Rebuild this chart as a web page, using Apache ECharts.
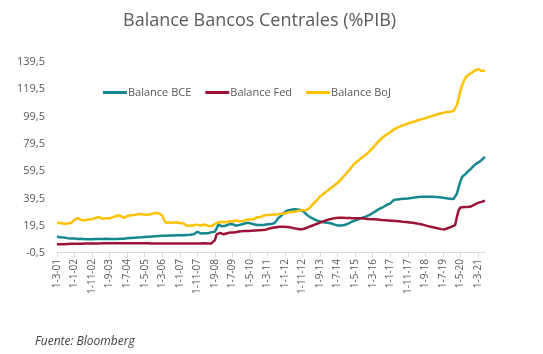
<!DOCTYPE html>
<html>
<head>
<meta charset="utf-8">
<script src="https://cdn.jsdelivr.net/npm/echarts@6/dist/echarts.min.js"></script>
<style>
  html, body { margin: 0; padding: 0; background: #fff; }
  #chart { width: 543px; height: 354px; }
</style>
</head>
<body>
<div id="chart"></div>
<script>
// meses desde 1-3-01 hasta 1-7-21
var categorias = [];
for (var y = 2001; y <= 2021; y++) {
  for (var m = 1; m <= 12; m++) {
    if (y === 2001 && m < 3) continue;
    if (y === 2021 && m > 7) continue;
    categorias.push('1-' + m + '-' + String(y).slice(2));
  }
}

var serieNombres = ['Balance BCE', 'Balance Fed', 'Balance BoJ'];

var bce = [
  11.4, 11.2, 11.0, 10.8, 10.9, 10.6, 10.4, 10.5, 10.2, 10.0,
  10.1, 9.9, 9.8, 9.7, 9.9, 9.6, 9.5, 9.7, 9.6, 9.5, 9.6, 9.8,
  9.7, 9.9, 9.8, 9.6, 9.7, 9.8, 9.9, 9.7, 9.8, 10.0, 9.8, 9.7,
  9.7, 9.9, 10.0, 10.1, 10.0, 10.2, 10.3, 10.4, 10.5, 10.6, 10.7, 10.8,
  10.9, 10.8, 11.0, 11.0, 11.2, 11.3, 11.4, 11.5, 11.6, 11.7, 11.8, 11.9,
  12.0, 12.0, 12.1, 12.1, 12.2, 12.2, 12.3, 12.3, 12.4, 12.4, 12.5, 12.5,
  12.5, 12.6, 12.6, 12.6, 12.7, 12.7, 12.8, 12.9, 13.2, 14.0, 15.1, 14.2,
  13.8, 14.2, 13.9, 14.3, 13.9, 14.4, 14.8, 15.0, 15.1, 17.5, 20.5, 19.8,
  19.0, 18.8, 19.5, 20.2, 20.5, 20.0, 20.6, 19.8, 19.5, 19.6, 20.1, 20.4,
  20.8, 21.2, 21.5, 21.7, 21.4, 21.0, 20.6, 20.3, 20.0, 20.2, 20.0, 20.2,
  20.0, 20.3, 20.5, 20.4, 20.7, 20.9, 21.5, 23.0, 25.0, 26.0, 27.0, 28.5,
  29.7, 30.5, 30.8, 31.0, 31.3, 31.5, 31.5, 31.4, 31.2, 31.0, 30.5, 29.5,
  28.0, 27.0, 26.0, 25.3, 24.6, 24.0, 23.4, 23.0, 22.6, 22.3, 22.0, 21.9,
  21.7, 21.5, 21.3, 21.0, 20.5, 20.0, 19.6, 19.5, 19.6, 19.8, 20.0, 20.3,
  21.0, 21.8, 22.4, 22.8, 23.3, 23.8, 24.3, 24.9, 25.3, 25.7, 26.2, 26.7,
  27.3, 28.0, 28.8, 29.6, 30.4, 31.2, 32.0, 32.5, 33.2, 34.0, 34.8, 35.4,
  35.8, 37.0, 38.3, 38.6, 38.8, 39.0, 39.1, 39.2, 39.3, 39.4, 39.5, 39.7,
  39.8, 40.0, 40.2, 40.3, 40.5, 40.6, 40.7, 40.7, 40.7, 40.6, 40.7, 40.8,
  40.7, 40.7, 40.6, 40.5, 40.3, 40.2, 40.0, 39.8, 39.6, 39.5, 39.3, 39.2,
  39.0, 39.3, 43.0, 48.0, 52.0, 55.4, 56.5, 57.5, 59.0, 60.0, 61.2, 62.7,
  63.8, 65.0, 66.3, 66.5, 67.5, 68.8, 70.0
];

var fed = [
  5.9, 5.9, 6.0, 6.0, 6.0, 6.1, 6.1, 6.1, 6.2, 6.2,
  6.2, 6.2, 6.3, 6.3, 6.3, 6.3, 6.4, 6.4, 6.4, 6.4, 6.5, 6.5,
  6.5, 6.5, 6.5, 6.5, 6.6, 6.6, 6.6, 6.6, 6.6, 6.6, 6.6, 6.6,
  6.6, 6.6, 6.6, 6.6, 6.6, 6.6, 6.6, 6.6, 6.6, 6.6, 6.6, 6.6,
  6.6, 6.6, 6.6, 6.6, 6.6, 6.6, 6.6, 6.6, 6.5, 6.5, 6.5, 6.5,
  6.5, 6.5, 6.5, 6.5, 6.5, 6.5, 6.5, 6.5, 6.5, 6.5, 6.5, 6.5,
  6.5, 6.5, 6.5, 6.5, 6.5, 6.5, 6.5, 6.5, 6.5, 6.5, 6.5, 6.5,
  6.5, 6.5, 6.6, 6.6, 6.5, 6.5, 6.5, 6.6, 9.0, 13.2, 14.6, 14.2,
  13.5, 13.2, 13.6, 14.0, 14.3, 14.6, 14.4, 14.6, 14.8, 15.0, 15.2, 15.4,
  15.5, 15.6, 15.5, 15.6, 15.7, 15.8, 15.9, 16.0, 16.1, 16.2, 16.3, 16.3,
  16.3, 16.6, 17.0, 17.4, 17.8, 18.0, 18.2, 18.4, 18.6, 18.7, 18.8, 18.8,
  18.7, 18.6, 18.5, 18.3, 18.0, 17.7, 17.4, 17.2, 17.0, 16.8, 16.9, 17.3,
  17.8, 18.3, 18.8, 19.3, 19.8, 20.3, 20.8, 21.3, 21.8, 22.3, 22.8, 23.2,
  23.7, 24.1, 24.4, 24.7, 24.9, 25.1, 25.2, 25.3, 25.3, 25.3, 25.3, 25.2,
  25.2, 25.1, 25.1, 25.0, 25.0, 25.0, 24.9, 24.9, 24.8, 24.7, 24.6, 24.5,
  24.4, 24.3, 24.3, 24.2, 24.1, 24.0, 23.8, 23.7, 23.6, 23.5, 23.4, 23.3,
  23.2, 23.1, 23.0, 22.9, 22.8, 22.7, 22.6, 22.4, 22.3, 22.2, 22.1, 21.9,
  21.8, 21.6, 21.4, 21.2, 21.0, 20.7, 20.4, 20.1, 19.7, 19.4, 19.1, 18.8,
  18.5, 18.2, 17.9, 17.6, 17.3, 17.0, 16.8, 16.8, 17.2, 17.8, 18.3, 18.8,
  19.2, 20.0, 26.0, 31.0, 32.8, 33.4, 33.2, 33.0, 33.2, 33.4, 33.6, 34.2,
  35.0, 35.9, 36.2, 36.5, 37.0, 37.2, 37.8
];

var boj = [
  21.5, 21.2, 21.6, 21.3, 21.0, 21.4, 21.1, 20.8, 21.5, 22.5,
  24.0, 25.3, 25.0, 24.2, 23.6, 23.8, 23.5, 23.9, 24.1, 23.8, 24.3, 24.5,
  25.2, 26.6, 25.8, 25.0, 24.6, 24.4, 24.9, 25.3, 25.0, 25.4, 25.8, 26.2,
  26.8, 27.8, 26.9, 26.0, 25.2, 25.8, 26.5, 26.9, 27.2, 27.5, 27.3, 27.8,
  28.0, 27.6, 27.9, 28.2, 27.7, 27.9, 27.5, 27.8, 28.2, 28.5, 28.8, 29.0,
  28.6, 27.5, 26.8, 24.0, 21.8, 21.5, 21.8, 22.0, 21.6, 21.9, 22.1, 21.7,
  21.5, 21.8, 21.3, 20.5, 19.5, 18.8, 19.4, 20.1, 19.8, 20.0, 20.3, 19.9,
  19.6, 20.1, 20.4, 19.8, 19.5, 18.5, 19.2, 20.0, 20.8, 21.5, 21.9, 22.2,
  22.4, 22.6, 22.0, 22.3, 22.8, 23.0, 22.6, 22.9, 23.3, 23.0, 22.8, 23.2,
  23.0, 23.4, 23.8, 23.5, 24.0, 24.5, 24.2, 25.0, 25.6, 26.2, 25.8, 26.5,
  27.0, 26.8, 27.3, 28.0, 27.5, 27.2, 27.8, 28.3, 27.9, 28.5, 28.2, 28.8,
  28.6, 28.9, 29.3, 29.0, 29.6, 30.0, 29.8, 30.2, 30.6, 30.4, 30.8, 31.0,
  30.8, 31.5, 32.5, 34.0, 35.5, 36.8, 38.0, 39.5, 41.0, 42.0, 43.0, 44.2,
  45.0, 46.0, 47.0, 48.0, 49.0, 50.0, 51.0, 52.2, 53.5, 55.0, 56.5, 58.0,
  59.5, 61.0, 62.7, 64.0, 65.5, 66.5, 67.5, 68.6, 69.5, 70.5, 71.5, 72.5,
  73.8, 75.0, 76.5, 78.0, 79.5, 80.8, 82.2, 83.5, 84.5, 85.5, 86.5, 87.3,
  88.0, 89.0, 90.0, 90.8, 91.4, 92.0, 92.5, 93.0, 93.4, 93.8, 94.4, 94.8,
  95.2, 95.6, 96.0, 96.5, 97.0, 97.4, 97.6, 98.0, 98.4, 98.8, 99.2, 99.6,
  100.0, 100.5, 100.8, 101.2, 101.6, 102.0, 102.2, 102.5, 102.8, 103.0, 103.0, 103.2,
  103.5, 104.5, 108.0, 113.0, 118.5, 122.5, 126.0, 128.0, 129.5, 130.5, 131.2, 132.0,
  133.0, 133.6, 134.2, 134.5, 133.0, 132.2, 133.0
];

var colores = ['#15878f', '#9c1338', '#ffc000'];

var myChart = echarts.init(document.getElementById('chart'));

var option = {
  animation: false,
  color: colores,
  title: {
    text: 'Balance Bancos Centrales (%PIB)',
    left: 118,
    top: 7,
    textStyle: { fontFamily: 'Open Sans', fontSize: 18, fontWeight: 'normal', color: '#595959' }
  },
  legend: {
    data: serieNombres,
    left: 98,
    top: 82,
    icon: 'rect',
    itemWidth: 24,
    itemHeight: 3,
    itemGap: 14,
    textStyle: { fontFamily: 'Open Sans', fontSize: 11, color: '#595959', padding: [0, 0, 0, -4] }
  },
  grid: { left: 57, right: 58, top: 62, bottom: 101 },
  xAxis: {
    type: 'category',
    data: categorias,
    boundaryGap: false,
    axisLine: { lineStyle: { color: '#d9d9d9', width: 1 } },
    axisTick: { interval: 9, length: 5, lineStyle: { color: '#d9d9d9' } },
    axisLabel: {
      interval: 9,
      rotate: 90,
      fontFamily: 'Open Sans',
      fontSize: 10,
      color: '#595959',
      margin: 6
    }
  },
  yAxis: {
    type: 'value',
    min: -0.5,
    max: 139.5,
    interval: 20,
    splitLine: { show: false },
    axisLine: { show: false },
    axisTick: { show: false },
    axisLabel: {
      fontFamily: 'Open Sans',
      fontSize: 11,
      color: '#595959',
      margin: 12,
      formatter: function (v) { return v.toFixed(1).replace('.', ','); }
    }
  },
  graphic: [{
    type: 'text',
    left: 35,
    top: 336,
    style: { text: 'Fuente: Bloomberg', font: 'italic 12px "Open Sans"', fill: '#404040' }
  }],
  series: [
    { name: serieNombres[0], type: 'line', data: bce, showSymbol: false, lineStyle: { width: 2.5 } },
    { name: serieNombres[1], type: 'line', data: fed, showSymbol: false, lineStyle: { width: 2.5 } },
    { name: serieNombres[2], type: 'line', data: boj, showSymbol: false, lineStyle: { width: 2.5 } }
  ]
};
myChart.setOption(option);
</script>
</body>
</html>
